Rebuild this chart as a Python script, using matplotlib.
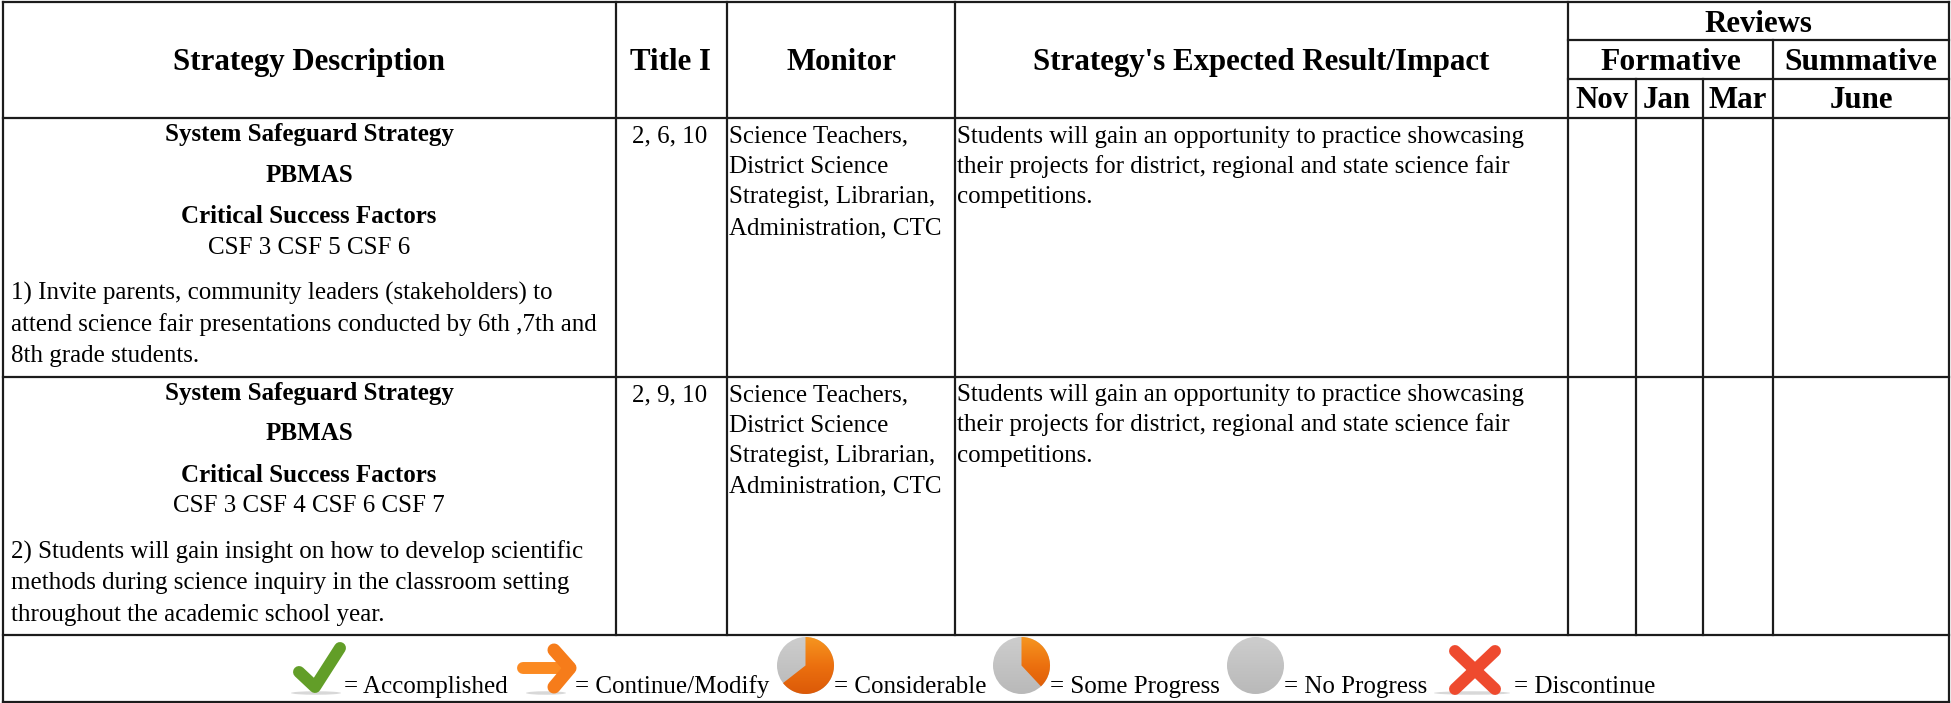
import numpy as np
import matplotlib.pyplot as plt
from matplotlib.patches import Circle, Wedge, Ellipse
from matplotlib.colors import LinearSegmentedColormap

plt.rcParams['font.family'] = ['Liberation Serif', 'DejaVu Serif']

# table text
header_main = ['Strategy Description', 'Title I', 'Monitor', "Strategy's Expected Result/Impact"]
header_reviews = 'Reviews'
header_groups = ['Formative', 'Summative']
header_months = ['Nov', 'Jan', 'Mar', 'June']

strategy_titles = ['System Safeguard Strategy', 'PBMAS', 'Critical Success Factors']
csf_lists = ['CSF 3 CSF 5 CSF 6', 'CSF 3 CSF 4 CSF 6 CSF 7']
strategy_text = [
    ['1) Invite parents, community leaders (stakeholders) to',
     'attend science fair presentations conducted by 6th ,7th and',
     '8th grade students.'],
    ['2) Students will gain insight on how to develop scientific',
     'methods during science inquiry in the classroom setting',
     'throughout the academic school year.'],
]
title_one = ['2, 6, 10', '2, 9, 10']
monitor_text = ['Science Teachers,', 'District Science', 'Strategist, Librarian,', 'Administration, CTC']
impact_text = ['Students will gain an opportunity to practice showcasing',
               'their projects for district, regional and state science fair',
               'competitions.']
legend_labels = ['= Accomplished', '= Continue/Modify', '= Considerable',
                 '= Some Progress', '= No Progress', '= Discontinue']

fig = plt.figure(figsize=(19.51, 7.03), dpi=100)
ax = fig.add_axes([0, 0, 1, 1])
ax.set_xlim(0, 1951)
ax.set_ylim(703, 0)
ax.axis('off')

INK = '#1c1c1c'
LW = 1.6
BODY = 18
HEAD = 22.2

# grid
for y in [2, 117.5, 376.5, 635, 701.5]:
    ax.plot([3, 1949], [y, y], color=INK, lw=LW, solid_capstyle='projecting')
for y in [40, 79]:
    ax.plot([1568, 1949], [y, y], color=INK, lw=LW)
for x in [3, 1949]:
    ax.plot([x, x], [2, 701.5], color=INK, lw=LW)
for x in [615.5, 726.5, 955, 1568]:
    ax.plot([x, x], [2, 635], color=INK, lw=LW)
for x in [1636, 1703]:
    ax.plot([x, x], [79, 635], color=INK, lw=LW)
ax.plot([1773, 1773], [40, 635], color=INK, lw=LW)


def put(x, y, s, size=BODY, ha='left', weight='normal'):
    ax.text(x, y, s, fontsize=size, ha=ha, va='baseline', weight=weight, color='black')


# header
for x, s in zip([309, 670, 841, 1261], header_main):
    put(x, 70, s, HEAD, 'center', 'bold')
put(1758, 32, header_reviews, HEAD, 'center', 'bold')
for x, s in zip([1670.5, 1861], header_groups):
    put(x, 70.5, s, 22.8, 'center', 'bold')
for x, s in zip([1602, 1667, 1738, 1861], header_months):
    put(x, 108.5, s, HEAD, 'center', 'bold')

# the two body rows
for i, dy in enumerate([0, 258.5]):
    for y, s in zip([141.5, 182, 223], strategy_titles):
        put(309, y + dy, s, BODY, 'center', 'bold')
    put(309, 254 + dy, csf_lists[i], BODY, 'center')
    for y, s in zip([300, 331, 362], strategy_text[i]):
        put(11, y + dy, s)
    put(670, 142.7 + dy, title_one[i], BODY, 'center')
    for y, s in zip([142.7, 173, 203.5, 234], monitor_text):
        put(729, y + dy, s)
    for y, s in zip([142.7, 173, 203.5], impact_text):
        put(957, y + dy, s)

# legend text
for x, s in zip([344, 575, 834, 1050, 1284, 1514], legend_labels):
    put(x, 693, s)

# legend icons
grey_map = LinearSegmentedColormap.from_list('g', ['#cdcdcd', '#b9b9b9'])
orange_map = LinearSegmentedColormap.from_list('o', ['#f6951f', '#ec700f', '#dc5a08'])


def shaded(patch, cmap, x0, x1, y0, y1):
    # vertical gradient clipped to the shape
    ax.add_patch(patch)
    patch.set_visible(False)
    grad = np.linspace(0, 1, 64).reshape(-1, 1)
    im = ax.imshow(grad, cmap=cmap, extent=[x0, x1, y1, y0], aspect='auto', zorder=2)
    im.set_clip_path(patch.get_path(), patch.get_transform())


def pie(cx, start, end):
    shaded(Circle((cx, 665.5), 28.5), grey_map, cx - 29, cx + 29, 637, 694)
    shaded(Wedge((cx, 665.5), 28.5, start, end), orange_map, cx - 29, cx + 29, 637, 694)


def stroke(xs, ys, color, width):
    ax.plot(xs, ys, color=color, lw=width, solid_capstyle='round',
            solid_joinstyle='round', zorder=3)


# soft shadows under the icons
for cx, w in [(316, 50), (546, 40), (1472, 76)]:
    ax.add_patch(Ellipse((cx, 693), w, 3.5, color='#cfcfcf', alpha=0.8, lw=0, zorder=1))

# check
stroke([299, 315, 340], [672, 687, 648], '#629e28', 8.6)
# arrow
stroke([523, 570], [668, 668], '#fb8a22', 8.6)
stroke([554, 570, 554], [650, 668, 687], '#f67c1a', 9.4)
# pies: y axis points down, angles run clockwise on screen
pie(805.5, -90, 142)
pie(1021.5, -90, 47)
shaded(Circle((1255.5, 665.5), 28.5), grey_map, 1226, 1285, 637, 694)
# cross
stroke([1455, 1495], [651, 689], '#ee4a2e', 8.6)
stroke([1495, 1455], [651, 689], '#ee4a2e', 8.6)

ax.set_xlim(0, 1951)
ax.set_ylim(703, 0)
fig.savefig('out.png', dpi=100, facecolor='white')
